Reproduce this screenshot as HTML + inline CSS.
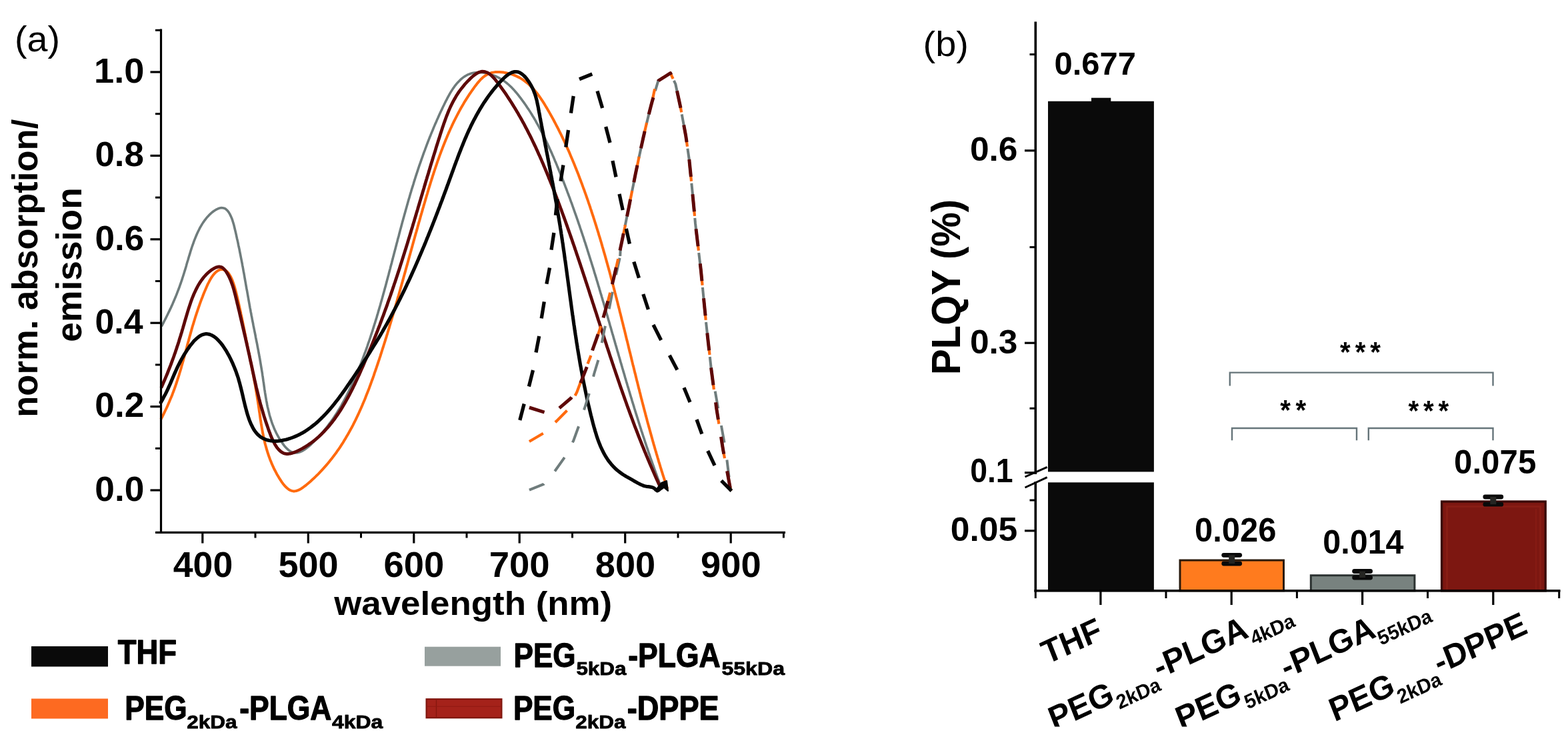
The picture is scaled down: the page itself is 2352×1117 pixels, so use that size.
<!DOCTYPE html>
<html lang="en">
<head>
<meta charset="utf-8">
<title>Normalized absorption/emission spectra and PLQY</title>
<style>
html,body{margin:0;padding:0;background:#fff;}
body{width:2352px;height:1117px;overflow:hidden;font-family:"Liberation Sans",Arial,Helvetica,sans-serif;}
svg{display:block;filter:blur(0.6px);}
</style>
</head>
<body>
<svg xmlns="http://www.w3.org/2000/svg" width="2352" height="1117" viewBox="0 0 2352 1117">
<rect width="2352" height="1117" fill="#fff"/>
<g id="left-chart">
<path d="M242.3,489.4 L243.9,486.4 L245.4,483.4 L246.9,480.5 L248.4,477.7 L249.8,474.8 L251.2,472.0 L252.5,469.3 L253.8,466.6 L255.1,463.9 L256.4,461.2 L257.6,458.5 L258.8,455.9 L259.9,453.3 L261.0,450.7 L262.1,448.1 L263.2,445.5 L264.3,442.9 L265.3,440.3 L266.3,437.7 L267.3,435.1 L268.3,432.5 L269.3,429.8 L270.2,427.2 L271.2,424.5 L272.1,421.8 L273.0,419.1 L273.9,416.3 L274.8,413.5 L275.7,410.7 L276.6,407.8 L277.5,404.9 L278.4,401.9 L279.3,398.9 L280.1,395.9 L281.0,392.8 L282.0,389.7 L282.9,386.6 L283.8,383.5 L284.8,380.4 L285.7,377.2 L286.7,374.1 L287.7,371.0 L288.8,367.9 L289.9,364.8 L291.0,361.7 L292.2,358.7 L293.4,355.7 L294.6,352.8 L295.9,349.8 L297.2,347.0 L298.6,344.2 L300.0,341.4 L301.5,338.8 L303.1,336.1 L304.7,333.6 L306.4,331.2 L308.2,328.8 L310.0,326.5 L311.9,324.4 L313.9,322.3 L315.9,320.4 L318.0,318.5 L320.3,316.8 L322.6,315.2 L324.9,313.9 L327.2,312.8 L329.6,312.0 L331.9,311.6 L334.1,311.7 L336.3,312.2 L338.3,313.2 L340.2,314.8 L342.0,316.7 L343.6,319.1 L345.1,321.7 L346.5,324.6 L347.8,327.7 L348.9,330.9 L349.9,334.2 L350.9,337.6 L351.7,341.0 L352.5,344.4 L353.3,347.7 L354.1,351.1 L354.8,354.4 L355.5,357.7 L356.3,360.9 L357.0,364.1 L357.6,367.3 L358.3,370.5 L359.0,373.6 L359.6,376.8 L360.2,379.9 L360.8,382.9 L361.4,386.0 L362.0,389.0 L362.6,392.1 L363.2,395.1 L363.7,398.1 L364.3,401.0 L364.8,404.0 L365.3,406.9 L365.9,409.8 L366.4,412.8 L366.9,415.7 L367.4,418.6 L367.9,421.5 L368.4,424.3 L368.9,427.2 L369.4,430.1 L369.9,432.9 L370.5,435.8 L371.0,438.7 L371.5,441.5 L372.0,444.4 L372.5,447.2 L373.0,450.1 L373.5,452.9 L374.0,455.8 L374.5,458.6 L375.0,461.5 L375.6,464.4 L376.1,467.3 L376.7,470.2 L377.2,473.1 L377.8,476.0 L378.3,478.9 L378.9,481.8 L379.5,484.7 L380.0,487.6 L380.6,490.6 L381.2,493.5 L381.8,496.5 L382.4,499.4 L383.0,502.4 L383.5,505.3 L384.1,508.3 L384.7,511.3 L385.3,514.2 L385.9,517.2 L386.4,520.2 L387.0,523.2 L387.6,526.2 L388.1,529.2 L388.7,532.2 L389.2,535.2 L389.8,538.2 L390.3,541.2 L390.8,544.2 L391.3,547.2 L391.8,550.2 L392.3,553.2 L392.8,556.2 L393.3,559.2 L393.7,562.2 L394.2,565.2 L394.6,568.2 L395.0,571.2 L395.5,574.2 L395.9,577.2 L396.3,580.2 L396.7,583.2 L397.2,586.2 L397.6,589.1 L398.1,592.1 L398.6,595.1 L399.1,598.1 L399.6,601.0 L400.2,603.9 L400.7,606.9 L401.3,609.8 L402.0,612.7 L402.7,615.6 L403.4,618.5 L404.1,621.4 L404.9,624.3 L405.8,627.1 L406.7,630.0 L407.6,632.8 L408.6,635.6 L409.7,638.4 L410.8,641.2 L412.0,644.0 L413.3,646.7 L414.6,649.5 L416.0,652.2 L417.5,654.9 L419.1,657.6 L420.7,660.2 L422.4,662.8 L424.3,665.4 L426.1,667.9 L428.1,670.3 L430.2,672.4 L432.3,674.4 L434.4,676.0 L436.7,677.4 L439.0,678.3 L441.3,678.9 L443.7,679.0 L446.2,678.7 L448.7,678.1 L451.1,677.2 L453.7,676.0 L456.2,674.5 L458.7,672.8 L461.2,670.9 L463.7,668.8 L466.2,666.6 L468.6,664.3 L471.0,662.0 L473.3,659.6 L475.6,657.2 L477.9,654.9 L480.1,652.5 L482.2,650.1 L484.3,647.6 L486.3,645.2 L488.3,642.8 L490.3,640.3 L492.2,637.9 L494.0,635.4 L495.8,633.0 L497.6,630.5 L499.4,628.0 L501.1,625.5 L502.7,623.0 L504.4,620.5 L506.0,618.0 L507.5,615.5 L509.1,612.9 L510.6,610.4 L512.1,607.8 L513.5,605.2 L514.9,602.7 L516.3,600.1 L517.7,597.5 L519.1,594.9 L520.4,592.3 L521.7,589.6 L523.0,587.0 L524.3,584.4 L525.5,581.7 L526.8,579.1 L528.0,576.4 L529.2,573.7 L530.4,571.0 L531.6,568.3 L532.8,565.6 L534.0,562.9 L535.2,560.2 L536.3,557.5 L537.4,554.7 L538.6,552.0 L539.7,549.2 L540.8,546.5 L541.9,543.7 L542.9,540.9 L544.0,538.1 L545.0,535.3 L546.1,532.5 L547.1,529.7 L548.2,526.9 L549.2,524.1 L550.2,521.3 L551.2,518.5 L552.1,515.6 L553.1,512.8 L554.1,510.0 L555.1,507.1 L556.0,504.3 L556.9,501.4 L557.9,498.5 L558.8,495.7 L559.7,492.8 L560.6,489.9 L561.5,487.0 L562.4,484.2 L563.3,481.3 L564.2,478.4 L565.1,475.5 L565.9,472.6 L566.8,469.7 L567.6,466.8 L568.5,463.9 L569.3,461.0 L570.2,458.1 L571.0,455.2 L571.8,452.3 L572.7,449.4 L573.5,446.4 L574.3,443.5 L575.1,440.6 L575.9,437.7 L576.7,434.8 L577.5,431.8 L578.3,428.9 L579.1,426.0 L579.9,423.1 L580.6,420.2 L581.4,417.2 L582.2,414.3 L583.0,411.4 L583.7,408.5 L584.5,405.6 L585.3,402.6 L586.0,399.7 L586.8,396.8 L587.6,393.9 L588.3,391.0 L589.1,388.1 L589.8,385.2 L590.6,382.3 L591.3,379.4 L592.1,376.5 L592.9,373.6 L593.6,370.7 L594.4,367.8 L595.1,364.9 L595.9,362.0 L596.6,359.1 L597.4,356.2 L598.2,353.4 L598.9,350.5 L599.7,347.6 L600.4,344.7 L601.2,341.9 L602.0,339.0 L602.8,336.1 L603.5,333.2 L604.3,330.4 L605.1,327.5 L605.9,324.7 L606.7,321.8 L607.5,318.9 L608.3,316.1 L609.1,313.2 L609.9,310.4 L610.7,307.5 L611.5,304.7 L612.3,301.8 L613.1,299.0 L614.0,296.1 L614.8,293.3 L615.6,290.4 L616.5,287.6 L617.3,284.8 L618.2,281.9 L619.1,279.1 L620.0,276.2 L620.8,273.4 L621.7,270.6 L622.6,267.7 L623.5,264.9 L624.4,262.1 L625.4,259.2 L626.3,256.4 L627.2,253.6 L628.2,250.7 L629.1,247.9 L630.1,245.1 L631.1,242.3 L632.1,239.4 L633.1,236.6 L634.1,233.8 L635.1,230.9 L636.1,228.1 L637.2,225.3 L638.2,222.5 L639.3,219.6 L640.3,216.8 L641.4,214.0 L642.5,211.2 L643.6,208.4 L644.7,205.5 L645.9,202.7 L647.0,199.9 L648.2,197.1 L649.4,194.2 L650.5,191.4 L651.7,188.6 L652.9,185.8 L654.2,182.9 L655.4,180.1 L656.7,177.3 L657.9,174.5 L659.2,171.6 L660.5,168.8 L661.8,166.0 L663.2,163.1 L664.5,160.3 L665.9,157.5 L667.2,154.7 L668.6,151.9 L670.1,149.1 L671.5,146.3 L673.0,143.6 L674.5,140.9 L676.1,138.2 L677.7,135.6 L679.3,133.1 L681.0,130.7 L682.7,128.3 L684.5,126.1 L686.4,123.9 L688.3,121.9 L690.3,119.9 L692.3,118.1 L694.5,116.4 L696.6,114.9 L698.9,113.5 L701.3,112.2 L703.7,111.2 L706.3,110.3 L708.9,109.5 L711.6,109.0 L714.4,108.7 L717.3,108.5 L720.3,108.6 L723.4,108.8 L726.5,109.3 L729.6,109.9 L732.8,110.6 L735.9,111.5 L739.0,112.6 L742.0,113.7 L745.0,115.0 L747.8,116.4 L750.6,118.0 L753.3,119.6 L755.8,121.3 L758.3,123.1 L760.7,125.0 L763.0,127.0 L765.2,129.0 L767.3,131.1 L769.4,133.2 L771.4,135.4 L773.4,137.7 L775.3,139.9 L777.1,142.2 L779.0,144.6 L780.8,146.9 L782.6,149.3 L784.3,151.7 L786.1,154.1 L787.8,156.5 L789.5,159.0 L791.1,161.5 L792.8,163.9 L794.4,166.4 L796.0,168.9 L797.6,171.5 L799.1,174.0 L800.7,176.5 L802.2,179.1 L803.7,181.7 L805.1,184.3 L806.6,186.9 L808.0,189.5 L809.4,192.1 L810.8,194.7 L812.2,197.4 L813.6,200.0 L814.9,202.7 L816.3,205.4 L817.6,208.1 L818.9,210.8 L820.2,213.5 L821.5,216.2 L822.7,218.9 L824.0,221.6 L825.2,224.4 L826.5,227.1 L827.7,229.8 L828.9,232.6 L830.1,235.3 L831.3,238.1 L832.4,240.9 L833.6,243.6 L834.8,246.4 L835.9,249.2 L837.1,252.0 L838.2,254.7 L839.3,257.5 L840.5,260.3 L841.6,263.1 L842.7,265.9 L843.8,268.7 L844.9,271.5 L846.0,274.3 L847.1,277.1 L848.1,279.9 L849.2,282.7 L850.3,285.5 L851.3,288.3 L852.4,291.1 L853.4,293.9 L854.5,296.7 L855.5,299.5 L856.5,302.4 L857.6,305.2 L858.6,308.0 L859.6,310.8 L860.6,313.6 L861.6,316.5 L862.6,319.3 L863.6,322.1 L864.6,324.9 L865.6,327.8 L866.6,330.6 L867.5,333.4 L868.5,336.3 L869.5,339.1 L870.4,342.0 L871.4,344.8 L872.3,347.6 L873.3,350.5 L874.2,353.3 L875.2,356.2 L876.1,359.0 L877.0,361.9 L878.0,364.7 L878.9,367.6 L879.8,370.4 L880.7,373.3 L881.6,376.2 L882.5,379.0 L883.4,381.9 L884.3,384.7 L885.2,387.6 L886.1,390.5 L887.0,393.3 L887.9,396.2 L888.8,399.0 L889.7,401.9 L890.6,404.8 L891.4,407.6 L892.3,410.5 L893.2,413.4 L894.1,416.3 L894.9,419.1 L895.8,422.0 L896.7,424.9 L897.5,427.7 L898.4,430.6 L899.2,433.5 L900.1,436.4 L900.9,439.2 L901.8,442.1 L902.6,445.0 L903.5,447.9 L904.3,450.8 L905.2,453.6 L906.0,456.5 L906.9,459.4 L907.7,462.3 L908.5,465.1 L909.4,468.0 L910.2,470.9 L911.1,473.8 L911.9,476.7 L912.7,479.6 L913.6,482.4 L914.4,485.3 L915.2,488.2 L916.1,491.1 L916.9,494.0 L917.7,496.9 L918.5,499.7 L919.4,502.6 L920.2,505.5 L921.0,508.4 L921.9,511.3 L922.7,514.2 L923.5,517.0 L924.4,519.9 L925.2,522.8 L926.0,525.7 L926.9,528.6 L927.7,531.5 L928.5,534.3 L929.4,537.2 L930.2,540.1 L931.0,543.0 L931.9,545.9 L932.7,548.7 L933.5,551.6 L934.4,554.5 L935.2,557.4 L936.1,560.3 L936.9,563.1 L937.7,566.0 L938.6,568.9 L939.4,571.8 L940.3,574.6 L941.1,577.5 L942.0,580.4 L942.9,583.3 L943.7,586.1 L944.6,589.0 L945.4,591.9 L946.3,594.8 L947.2,597.6 L948.0,600.5 L948.9,603.4 L949.8,606.2 L950.7,609.1 L951.5,612.0 L952.4,614.8 L953.3,617.7 L954.2,620.6 L955.1,623.4 L956.0,626.3 L956.9,629.1 L957.8,632.0 L958.7,634.9 L959.6,637.7 L960.5,640.6 L961.4,643.4 L962.3,646.3 L963.3,649.1 L964.2,652.0 L965.1,654.8 L966.1,657.7 L967.0,660.5 L967.9,663.4 L968.9,666.2 L969.8,669.0 L970.8,671.9 L971.8,674.7 L972.7,677.6 L973.7,680.4 L974.7,683.2 L975.6,686.1 L976.6,688.9 L977.6,691.7 L978.6,694.5 L979.6,697.4 L980.6,700.2 L981.6,703.0 L982.6,705.8 L983.6,708.7 L984.7,711.5 L985.7,714.3 L986.7,717.1 L987.8,719.9 L988.8,722.7 L989.9,725.5 L990.9,728.3 L992.0,731.1 L992.8,733.2" fill="none" stroke="#6f7c7c" stroke-width="3.6" stroke-linecap="butt" stroke-linejoin="round"/>
<path d="M241.3,628.8 L242.9,625.8 L244.4,622.8 L245.9,619.9 L247.3,616.9 L248.7,614.0 L250.1,611.1 L251.4,608.2 L252.7,605.3 L253.9,602.5 L255.1,599.6 L256.3,596.8 L257.5,594.0 L258.6,591.2 L259.6,588.4 L260.7,585.6 L261.7,582.8 L262.7,580.0 L263.7,577.2 L264.6,574.5 L265.5,571.7 L266.4,568.9 L267.3,566.2 L268.2,563.4 L269.0,560.7 L269.8,558.0 L270.7,555.2 L271.5,552.5 L272.2,549.7 L273.0,547.0 L273.8,544.2 L274.6,541.5 L275.3,538.8 L276.1,536.0 L276.8,533.2 L277.5,530.5 L278.3,527.7 L279.0,525.0 L279.8,522.2 L280.5,519.4 L281.2,516.6 L282.0,513.8 L282.8,511.0 L283.5,508.2 L284.3,505.3 L285.1,502.5 L285.9,499.6 L286.7,496.7 L287.5,493.9 L288.3,490.9 L289.2,488.0 L290.1,485.1 L291.0,482.2 L291.9,479.2 L292.8,476.2 L293.8,473.2 L294.8,470.2 L295.8,467.1 L296.8,464.1 L297.9,461.0 L299.0,457.9 L300.1,454.7 L301.2,451.6 L302.4,448.4 L303.7,445.2 L304.9,442.0 L306.2,438.7 L307.6,435.5 L309.0,432.2 L310.4,429.0 L311.8,425.9 L313.4,422.9 L314.9,419.9 L316.5,417.2 L318.2,414.6 L319.9,412.3 L321.7,410.2 L323.5,408.3 L325.4,406.8 L327.3,405.5 L329.3,404.6 L331.3,404.1 L333.4,404.0 L335.5,404.3 L337.5,405.1 L339.3,406.2 L341.1,407.8 L342.8,409.7 L344.3,412.0 L345.8,414.5 L347.2,417.3 L348.5,420.3 L349.7,423.6 L350.8,426.9 L351.9,430.4 L352.9,434.0 L353.9,437.6 L354.8,441.3 L355.7,444.9 L356.5,448.4 L357.3,451.9 L358.1,455.3 L358.8,458.6 L359.5,461.8 L360.2,465.0 L360.9,468.0 L361.5,471.1 L362.2,474.0 L362.8,477.0 L363.4,479.8 L364.0,482.7 L364.5,485.5 L365.1,488.3 L365.7,491.0 L366.2,493.8 L366.8,496.5 L367.3,499.2 L367.9,502.0 L368.4,504.7 L369.0,507.5 L369.5,510.2 L370.1,513.0 L370.7,515.8 L371.2,518.7 L371.8,521.5 L372.4,524.4 L373.0,527.3 L373.6,530.2 L374.2,533.1 L374.8,536.1 L375.3,539.0 L375.9,542.0 L376.5,545.0 L377.1,548.0 L377.7,551.0 L378.3,554.0 L378.9,557.0 L379.5,560.0 L380.1,563.0 L380.6,566.1 L381.2,569.1 L381.8,572.1 L382.3,575.1 L382.9,578.2 L383.4,581.2 L383.9,584.2 L384.4,587.3 L384.9,590.3 L385.4,593.3 L385.9,596.3 L386.4,599.3 L386.9,602.3 L387.3,605.3 L387.8,608.2 L388.2,611.2 L388.6,614.1 L389.0,617.1 L389.5,620.0 L389.9,623.0 L390.3,625.9 L390.7,628.8 L391.2,631.7 L391.6,634.6 L392.1,637.5 L392.6,640.4 L393.1,643.3 L393.6,646.1 L394.1,649.0 L394.7,651.9 L395.3,654.8 L395.9,657.6 L396.6,660.5 L397.2,663.3 L397.9,666.2 L398.7,669.0 L399.5,671.9 L400.3,674.7 L401.2,677.6 L402.1,680.4 L403.1,683.3 L404.1,686.1 L405.1,688.9 L406.3,691.8 L407.4,694.6 L408.7,697.5 L410.0,700.3 L411.3,703.2 L412.8,706.0 L414.3,708.9 L415.8,711.7 L417.5,714.6 L419.2,717.4 L421.0,720.2 L422.8,722.9 L424.7,725.5 L426.7,727.9 L428.7,730.1 L430.8,732.0 L433.0,733.7 L435.2,735.0 L437.5,735.9 L439.8,736.4 L442.1,736.4 L444.5,736.0 L446.9,735.2 L449.4,734.1 L451.8,732.7 L454.3,731.0 L456.7,729.2 L459.2,727.3 L461.6,725.3 L464.0,723.2 L466.3,721.2 L468.6,719.1 L470.9,717.0 L473.1,714.9 L475.3,712.7 L477.5,710.6 L479.6,708.4 L481.7,706.2 L483.8,703.9 L485.8,701.7 L487.8,699.4 L489.8,697.1 L491.8,694.8 L493.7,692.5 L495.6,690.1 L497.5,687.8 L499.3,685.4 L501.1,683.0 L502.9,680.6 L504.7,678.2 L506.4,675.7 L508.1,673.3 L509.8,670.8 L511.4,668.3 L513.0,665.8 L514.7,663.3 L516.2,660.7 L517.8,658.2 L519.3,655.6 L520.8,653.0 L522.3,650.4 L523.8,647.8 L525.2,645.2 L526.7,642.6 L528.1,640.0 L529.5,637.3 L530.8,634.6 L532.2,632.0 L533.5,629.3 L534.8,626.6 L536.1,623.9 L537.4,621.2 L538.6,618.5 L539.9,615.7 L541.1,613.0 L542.3,610.2 L543.5,607.5 L544.6,604.7 L545.8,602.0 L547.0,599.2 L548.1,596.4 L549.2,593.6 L550.3,590.8 L551.4,588.0 L552.5,585.2 L553.6,582.4 L554.6,579.6 L555.7,576.7 L556.7,573.9 L557.7,571.1 L558.8,568.3 L559.8,565.4 L560.8,562.6 L561.7,559.7 L562.7,556.9 L563.7,554.0 L564.7,551.2 L565.6,548.4 L566.6,545.5 L567.5,542.7 L568.5,539.8 L569.4,537.0 L570.4,534.1 L571.3,531.2 L572.2,528.4 L573.1,525.5 L574.0,522.7 L574.9,519.8 L575.8,517.0 L576.7,514.1 L577.6,511.3 L578.5,508.4 L579.4,505.6 L580.3,502.7 L581.2,499.8 L582.0,497.0 L582.9,494.1 L583.8,491.3 L584.6,488.4 L585.5,485.5 L586.3,482.7 L587.2,479.8 L588.0,477.0 L588.9,474.1 L589.7,471.2 L590.5,468.4 L591.4,465.5 L592.2,462.6 L593.0,459.8 L593.9,456.9 L594.7,454.0 L595.5,451.2 L596.3,448.3 L597.1,445.4 L598.0,442.6 L598.8,439.7 L599.6,436.8 L600.4,434.0 L601.2,431.1 L602.0,428.2 L602.8,425.3 L603.6,422.5 L604.4,419.6 L605.2,416.7 L606.0,413.8 L606.8,411.0 L607.6,408.1 L608.4,405.2 L609.2,402.3 L610.0,399.4 L610.8,396.6 L611.6,393.7 L612.4,390.8 L613.2,387.9 L614.0,385.0 L614.8,382.1 L615.6,379.3 L616.4,376.4 L617.2,373.5 L618.0,370.6 L618.8,367.7 L619.6,364.8 L620.4,361.9 L621.2,359.0 L622.0,356.2 L622.8,353.3 L623.6,350.4 L624.5,347.5 L625.3,344.6 L626.1,341.7 L626.9,338.8 L627.7,335.9 L628.5,333.0 L629.4,330.1 L630.2,327.2 L631.0,324.3 L631.8,321.4 L632.7,318.5 L633.5,315.6 L634.3,312.7 L635.2,309.8 L636.0,306.9 L636.9,304.0 L637.7,301.1 L638.6,298.2 L639.4,295.3 L640.3,292.4 L641.2,289.5 L642.0,286.6 L642.9,283.6 L643.8,280.7 L644.7,277.8 L645.6,274.9 L646.5,272.0 L647.4,269.2 L648.3,266.3 L649.2,263.4 L650.2,260.5 L651.1,257.6 L652.1,254.7 L653.0,251.8 L654.0,249.0 L655.0,246.1 L655.9,243.3 L656.9,240.4 L658.0,237.6 L659.0,234.7 L660.0,231.9 L661.1,229.0 L662.1,226.2 L663.2,223.4 L664.3,220.6 L665.4,217.8 L666.5,215.0 L667.6,212.2 L668.7,209.4 L669.9,206.7 L671.0,203.9 L672.2,201.2 L673.4,198.4 L674.6,195.7 L675.8,193.0 L677.1,190.3 L678.3,187.6 L679.6,184.9 L680.9,182.2 L682.2,179.6 L683.6,176.9 L684.9,174.3 L686.3,171.6 L687.7,169.0 L689.1,166.4 L690.5,163.8 L691.9,161.3 L693.4,158.7 L694.9,156.2 L696.4,153.6 L697.9,151.1 L699.5,148.6 L701.1,146.1 L702.7,143.7 L704.3,141.2 L705.9,138.8 L707.6,136.4 L709.3,134.0 L711.0,131.6 L712.7,129.2 L714.5,126.9 L716.3,124.6 L718.2,122.4 L720.1,120.2 L722.1,118.2 L724.2,116.2 L726.4,114.5 L728.7,112.9 L731.2,111.5 L733.7,110.3 L736.5,109.3 L739.4,108.6 L742.5,108.1 L745.7,107.9 L749.0,108.0 L752.4,108.2 L755.7,108.6 L758.9,109.2 L762.1,109.9 L765.2,110.7 L768.2,111.6 L771.0,112.6 L773.8,113.8 L776.5,115.1 L779.2,116.4 L781.7,117.9 L784.1,119.4 L786.5,121.1 L788.8,122.8 L791.1,124.6 L793.3,126.5 L795.4,128.5 L797.4,130.5 L799.4,132.7 L801.3,134.8 L803.2,137.0 L805.1,139.3 L806.9,141.7 L808.6,144.0 L810.3,146.4 L812.0,148.9 L813.7,151.4 L815.3,153.9 L816.9,156.4 L818.4,159.0 L820.0,161.6 L821.5,164.2 L823.0,166.7 L824.5,169.4 L826.0,172.0 L827.4,174.6 L828.9,177.2 L830.3,179.8 L831.7,182.5 L833.1,185.1 L834.5,187.8 L835.9,190.5 L837.3,193.1 L838.6,195.8 L839.9,198.5 L841.3,201.2 L842.6,203.9 L843.9,206.6 L845.2,209.3 L846.5,212.0 L847.7,214.7 L849.0,217.5 L850.2,220.2 L851.4,222.9 L852.7,225.7 L853.9,228.4 L855.1,231.2 L856.2,233.9 L857.4,236.7 L858.6,239.5 L859.7,242.2 L860.9,245.0 L862.0,247.8 L863.1,250.6 L864.3,253.4 L865.4,256.2 L866.5,259.0 L867.6,261.7 L868.6,264.6 L869.7,267.4 L870.8,270.2 L871.8,273.0 L872.9,275.8 L873.9,278.6 L874.9,281.4 L876.0,284.2 L877.0,287.1 L878.0,289.9 L879.0,292.7 L880.0,295.5 L881.0,298.4 L882.0,301.2 L882.9,304.0 L883.9,306.9 L884.9,309.7 L885.8,312.6 L886.8,315.4 L887.7,318.3 L888.6,321.1 L889.6,324.0 L890.5,326.8 L891.4,329.7 L892.3,332.5 L893.2,335.4 L894.1,338.2 L895.0,341.1 L895.9,344.0 L896.8,346.8 L897.7,349.7 L898.5,352.6 L899.4,355.4 L900.3,358.3 L901.1,361.2 L902.0,364.0 L902.8,366.9 L903.6,369.8 L904.5,372.7 L905.3,375.6 L906.1,378.4 L907.0,381.3 L907.8,384.2 L908.6,387.1 L909.4,390.0 L910.2,392.9 L911.0,395.8 L911.8,398.6 L912.6,401.5 L913.4,404.4 L914.2,407.3 L915.0,410.2 L915.8,413.1 L916.5,416.0 L917.3,418.9 L918.1,421.8 L918.8,424.7 L919.6,427.6 L920.4,430.5 L921.1,433.4 L921.9,436.3 L922.6,439.2 L923.4,442.1 L924.1,445.0 L924.9,447.9 L925.6,450.8 L926.4,453.7 L927.1,456.7 L927.8,459.6 L928.6,462.5 L929.3,465.4 L930.0,468.3 L930.8,471.2 L931.5,474.1 L932.2,477.0 L932.9,479.9 L933.7,482.9 L934.4,485.8 L935.1,488.7 L935.8,491.6 L936.6,494.5 L937.3,497.4 L938.0,500.3 L938.7,503.3 L939.4,506.2 L940.1,509.1 L940.9,512.0 L941.6,514.9 L942.3,517.8 L943.0,520.7 L943.7,523.7 L944.4,526.6 L945.2,529.5 L945.9,532.4 L946.6,535.3 L947.3,538.2 L948.0,541.2 L948.7,544.1 L949.4,547.0 L950.2,549.9 L950.9,552.8 L951.6,555.7 L952.3,558.6 L953.1,561.5 L953.8,564.5 L954.5,567.4 L955.2,570.3 L956.0,573.2 L956.7,576.1 L957.4,579.0 L958.1,581.9 L958.9,584.8 L959.6,587.7 L960.4,590.6 L961.1,593.6 L961.8,596.5 L962.6,599.4 L963.3,602.3 L964.1,605.2 L964.8,608.1 L965.6,611.0 L966.3,613.9 L967.1,616.8 L967.9,619.7 L968.6,622.6 L969.4,625.5 L970.2,628.4 L970.9,631.3 L971.7,634.2 L972.5,637.0 L973.3,639.9 L974.1,642.8 L974.9,645.7 L975.7,648.6 L976.5,651.5 L977.3,654.4 L978.1,657.3 L978.9,660.2 L979.7,663.0 L980.5,665.9 L981.4,668.8 L982.2,671.7 L983.0,674.5 L983.9,677.4 L984.7,680.3 L985.6,683.2 L986.4,686.0 L987.3,688.9 L988.1,691.8 L989.0,694.6 L989.9,697.5 L990.7,700.4 L991.6,703.2 L992.5,706.1 L993.4,708.9 L994.3,711.8 L995.2,714.6 L996.1,717.5 L997.1,720.3 L998.0,723.2 L998.9,726.0 L999.9,728.9 L1000.8,731.7 L1001.2,732.9" fill="none" stroke="#ff6a0e" stroke-width="4.0" stroke-linecap="butt" stroke-linejoin="round"/>
<path d="M241.7,581.5 L243.1,578.6 L244.4,575.6 L245.6,572.7 L246.9,569.8 L248.1,566.9 L249.3,564.1 L250.5,561.3 L251.6,558.5 L252.7,555.7 L253.8,552.9 L254.9,550.1 L256.0,547.4 L257.0,544.6 L258.0,541.9 L259.0,539.2 L260.0,536.5 L261.0,533.7 L261.9,531.0 L262.9,528.3 L263.8,525.6 L264.7,522.9 L265.6,520.1 L266.5,517.4 L267.4,514.7 L268.3,511.9 L269.1,509.1 L270.0,506.3 L270.9,503.5 L271.7,500.7 L272.6,497.9 L273.4,495.0 L274.3,492.1 L275.1,489.2 L276.0,486.3 L276.8,483.3 L277.7,480.3 L278.6,477.3 L279.5,474.3 L280.4,471.2 L281.3,468.1 L282.2,465.1 L283.2,462.0 L284.2,459.0 L285.2,455.9 L286.2,452.9 L287.3,449.9 L288.4,446.9 L289.6,444.0 L290.8,441.0 L292.1,438.2 L293.4,435.4 L294.8,432.6 L296.2,429.9 L297.7,427.2 L299.3,424.6 L300.9,422.1 L302.6,419.7 L304.4,417.3 L306.2,415.0 L308.2,412.8 L310.2,410.7 L312.3,408.8 L314.5,406.9 L316.8,405.1 L319.2,403.5 L321.6,402.1 L324.1,400.9 L326.6,400.2 L329.0,400.0 L331.3,400.3 L333.6,401.3 L335.7,403.0 L337.6,405.1 L339.5,407.7 L341.2,410.5 L342.8,413.4 L344.2,416.3 L345.5,419.2 L346.7,422.1 L347.8,425.1 L348.9,428.1 L349.8,431.1 L350.7,434.1 L351.5,437.1 L352.3,440.2 L353.1,443.2 L353.8,446.2 L354.6,449.3 L355.3,452.3 L356.0,455.4 L356.8,458.4 L357.5,461.5 L358.2,464.5 L359.0,467.5 L359.7,470.6 L360.4,473.6 L361.1,476.6 L361.8,479.6 L362.5,482.6 L363.2,485.6 L363.9,488.6 L364.6,491.6 L365.3,494.6 L366.0,497.6 L366.7,500.6 L367.4,503.6 L368.1,506.5 L368.7,509.5 L369.4,512.4 L370.1,515.4 L370.7,518.3 L371.4,521.2 L372.0,524.1 L372.7,527.0 L373.3,529.9 L374.0,532.8 L374.6,535.7 L375.2,538.5 L375.8,541.4 L376.5,544.2 L377.1,547.0 L377.7,549.8 L378.3,552.6 L378.9,555.4 L379.5,558.2 L380.1,561.0 L380.7,563.8 L381.3,566.6 L381.9,569.4 L382.5,572.2 L383.2,575.0 L383.8,577.8 L384.4,580.6 L385.1,583.4 L385.8,586.2 L386.5,589.1 L387.2,591.9 L387.9,594.8 L388.6,597.6 L389.4,600.5 L390.1,603.4 L390.9,606.4 L391.8,609.3 L392.6,612.3 L393.5,615.3 L394.4,618.3 L395.3,621.4 L396.2,624.5 L397.2,627.6 L398.2,630.7 L399.3,633.9 L400.4,637.1 L401.5,640.3 L402.6,643.6 L403.8,646.9 L405.1,650.2 L406.3,653.5 L407.7,656.7 L409.1,659.8 L410.6,662.8 L412.1,665.7 L413.7,668.4 L415.4,670.9 L417.2,673.1 L419.1,675.2 L421.1,676.9 L423.2,678.3 L425.3,679.5 L427.6,680.2 L430.1,680.6 L432.6,680.5 L435.2,680.1 L437.9,679.5 L440.7,678.5 L443.4,677.4 L446.2,676.2 L448.9,674.9 L451.5,673.5 L454.1,672.1 L456.7,670.6 L459.2,669.1 L461.7,667.5 L464.1,665.8 L466.5,664.1 L468.9,662.4 L471.2,660.6 L473.4,658.8 L475.7,656.9 L477.9,655.0 L480.0,653.0 L482.1,651.0 L484.2,648.9 L486.2,646.8 L488.2,644.7 L490.2,642.5 L492.2,640.3 L494.1,638.1 L495.9,635.8 L497.8,633.5 L499.6,631.1 L501.4,628.8 L503.1,626.4 L504.8,623.9 L506.5,621.5 L508.2,619.0 L509.9,616.4 L511.5,613.9 L513.1,611.3 L514.6,608.7 L516.2,606.1 L517.7,603.5 L519.2,600.9 L520.7,598.2 L522.2,595.5 L523.6,592.8 L525.0,590.1 L526.4,587.4 L527.8,584.6 L529.2,581.9 L530.5,579.1 L531.9,576.4 L533.2,573.6 L534.5,570.8 L535.8,568.0 L537.1,565.3 L538.4,562.5 L539.6,559.7 L540.9,556.9 L542.1,554.1 L543.4,551.3 L544.6,548.5 L545.8,545.7 L547.0,542.9 L548.2,540.1 L549.4,537.4 L550.6,534.6 L551.8,531.8 L552.9,529.0 L554.1,526.2 L555.2,523.4 L556.4,520.7 L557.5,517.9 L558.6,515.1 L559.8,512.3 L560.9,509.5 L562.0,506.7 L563.1,504.0 L564.2,501.2 L565.3,498.4 L566.4,495.6 L567.4,492.8 L568.5,490.1 L569.6,487.3 L570.6,484.5 L571.7,481.7 L572.7,478.9 L573.7,476.2 L574.8,473.4 L575.8,470.6 L576.8,467.8 L577.8,465.0 L578.9,462.2 L579.9,459.4 L580.9,456.6 L581.8,453.8 L582.8,451.0 L583.8,448.3 L584.8,445.5 L585.8,442.7 L586.7,439.9 L587.7,437.1 L588.7,434.2 L589.6,431.4 L590.6,428.6 L591.5,425.8 L592.5,423.0 L593.4,420.2 L594.3,417.4 L595.3,414.5 L596.2,411.7 L597.1,408.9 L598.1,406.1 L599.0,403.2 L599.9,400.4 L600.8,397.6 L601.7,394.7 L602.6,391.9 L603.5,389.0 L604.4,386.2 L605.3,383.3 L606.2,380.5 L607.1,377.6 L608.0,374.7 L608.9,371.9 L609.8,369.0 L610.7,366.1 L611.6,363.3 L612.4,360.4 L613.3,357.5 L614.2,354.6 L615.1,351.7 L616.0,348.8 L616.8,345.9 L617.7,343.0 L618.6,340.2 L619.4,337.3 L620.3,334.4 L621.2,331.5 L622.0,328.6 L622.9,325.7 L623.8,322.8 L624.6,319.9 L625.5,317.0 L626.4,314.1 L627.2,311.2 L628.1,308.2 L629.0,305.3 L629.8,302.4 L630.7,299.5 L631.5,296.6 L632.4,293.7 L633.3,290.8 L634.1,287.9 L635.0,285.0 L635.9,282.1 L636.7,279.2 L637.6,276.3 L638.4,273.4 L639.3,270.5 L640.2,267.6 L641.0,264.7 L641.9,261.9 L642.8,259.0 L643.6,256.1 L644.5,253.2 L645.4,250.3 L646.2,247.4 L647.1,244.6 L648.0,241.7 L648.9,238.8 L649.7,236.0 L650.6,233.1 L651.5,230.2 L652.4,227.4 L653.3,224.5 L654.1,221.7 L655.0,218.8 L655.9,216.0 L656.8,213.1 L657.7,210.3 L658.6,207.5 L659.5,204.7 L660.4,201.8 L661.3,199.0 L662.2,196.2 L663.1,193.4 L664.0,190.6 L665.0,187.8 L665.9,185.0 L666.9,182.3 L667.9,179.5 L668.9,176.7 L669.9,174.0 L671.0,171.3 L672.1,168.5 L673.2,165.8 L674.4,163.1 L675.6,160.4 L676.9,157.7 L678.2,155.1 L679.6,152.4 L681.0,149.8 L682.5,147.2 L684.0,144.6 L685.6,142.0 L687.3,139.4 L689.0,136.9 L690.9,134.4 L692.8,131.9 L694.8,129.4 L696.8,126.9 L699.0,124.5 L701.2,122.1 L703.6,119.7 L706.0,117.3 L708.5,115.0 L711.1,112.9 L713.7,111.0 L716.3,109.4 L718.8,108.2 L721.3,107.5 L723.7,107.2 L726.0,107.3 L728.3,107.9 L730.5,108.7 L732.7,109.9 L734.8,111.3 L736.9,113.0 L738.9,115.0 L740.9,117.1 L742.8,119.3 L744.7,121.7 L746.6,124.1 L748.5,126.6 L750.3,129.1 L752.1,131.6 L753.9,134.1 L755.7,136.7 L757.5,139.2 L759.2,141.7 L760.9,144.3 L762.6,146.8 L764.3,149.4 L766.0,152.0 L767.6,154.6 L769.2,157.1 L770.8,159.7 L772.4,162.3 L774.0,164.9 L775.5,167.5 L777.1,170.1 L778.6,172.8 L780.1,175.4 L781.6,178.0 L783.1,180.7 L784.5,183.3 L786.0,185.9 L787.4,188.6 L788.8,191.3 L790.2,193.9 L791.6,196.6 L792.9,199.3 L794.3,201.9 L795.7,204.6 L797.0,207.3 L798.3,210.0 L799.6,212.7 L800.9,215.4 L802.2,218.1 L803.5,220.8 L804.7,223.5 L806.0,226.3 L807.2,229.0 L808.4,231.7 L809.7,234.4 L810.9,237.2 L812.1,239.9 L813.3,242.7 L814.5,245.4 L815.6,248.2 L816.8,250.9 L818.0,253.7 L819.1,256.4 L820.3,259.2 L821.4,262.0 L822.5,264.7 L823.6,267.5 L824.8,270.3 L825.9,273.0 L827.0,275.8 L828.1,278.6 L829.2,281.4 L830.3,284.2 L831.4,286.9 L832.4,289.7 L833.5,292.5 L834.6,295.3 L835.6,298.1 L836.7,300.9 L837.8,303.7 L838.8,306.5 L839.9,309.3 L840.9,312.1 L842.0,314.9 L843.0,317.7 L844.0,320.5 L845.0,323.3 L846.1,326.2 L847.1,329.0 L848.1,331.8 L849.1,334.6 L850.1,337.4 L851.1,340.2 L852.1,343.1 L853.1,345.9 L854.1,348.7 L855.1,351.5 L856.1,354.4 L857.1,357.2 L858.1,360.0 L859.0,362.9 L860.0,365.7 L861.0,368.5 L862.0,371.4 L862.9,374.2 L863.9,377.0 L864.8,379.9 L865.8,382.7 L866.8,385.6 L867.7,388.4 L868.7,391.2 L869.6,394.1 L870.6,396.9 L871.5,399.8 L872.5,402.6 L873.4,405.5 L874.3,408.3 L875.3,411.2 L876.2,414.0 L877.2,416.9 L878.1,419.7 L879.0,422.6 L880.0,425.4 L880.9,428.3 L881.8,431.1 L882.8,434.0 L883.7,436.8 L884.6,439.7 L885.5,442.6 L886.5,445.4 L887.4,448.3 L888.3,451.1 L889.2,454.0 L890.2,456.8 L891.1,459.7 L892.0,462.5 L892.9,465.4 L893.9,468.3 L894.8,471.1 L895.7,474.0 L896.6,476.8 L897.5,479.7 L898.5,482.5 L899.4,485.4 L900.3,488.3 L901.2,491.1 L902.2,494.0 L903.1,496.8 L904.0,499.7 L905.0,502.5 L905.9,505.4 L906.8,508.2 L907.7,511.1 L908.7,514.0 L909.6,516.8 L910.5,519.7 L911.5,522.5 L912.4,525.4 L913.4,528.2 L914.3,531.1 L915.2,533.9 L916.2,536.8 L917.1,539.6 L918.1,542.5 L919.0,545.3 L920.0,548.1 L920.9,551.0 L921.9,553.8 L922.9,556.7 L923.8,559.5 L924.8,562.4 L925.8,565.2 L926.7,568.0 L927.7,570.9 L928.7,573.7 L929.6,576.5 L930.6,579.4 L931.6,582.2 L932.6,585.0 L933.6,587.9 L934.6,590.7 L935.6,593.5 L936.6,596.4 L937.6,599.2 L938.6,602.0 L939.6,604.8 L940.6,607.7 L941.6,610.5 L942.7,613.3 L943.7,616.1 L944.7,618.9 L945.7,621.7 L946.8,624.5 L947.8,627.3 L948.9,630.2 L949.9,633.0 L951.0,635.8 L952.0,638.6 L953.1,641.4 L954.2,644.2 L955.3,647.0 L956.3,649.7 L957.4,652.5 L958.5,655.3 L959.6,658.1 L960.7,660.9 L961.8,663.7 L962.9,666.5 L964.0,669.2 L965.2,672.0 L966.3,674.8 L967.4,677.6 L968.6,680.3 L969.7,683.1 L970.9,685.9 L972.0,688.6 L973.2,691.4 L974.3,694.1 L975.5,696.9 L976.7,699.6 L977.9,702.4 L979.1,705.1 L980.3,707.9 L981.5,710.6 L982.7,713.4 L983.9,716.1 L985.1,718.8 L986.4,721.6 L987.6,724.3 L988.9,727.0 L990.1,729.7 L991.4,732.4 L992.3,734.3" fill="none" stroke="#5e0808" stroke-width="4.8" stroke-linecap="butt" stroke-linejoin="round"/>
<path d="M241.2,603.4 L243.1,600.1 L244.9,596.9 L246.5,593.8 L248.1,590.9 L249.5,588.1 L250.8,585.4 L252.0,582.8 L253.2,580.2 L254.3,577.7 L255.4,575.3 L256.4,572.9 L257.4,570.5 L258.4,568.2 L259.4,565.8 L260.4,563.5 L261.4,561.1 L262.5,558.7 L263.6,556.2 L264.7,553.7 L265.9,551.1 L267.2,548.4 L268.6,545.7 L270.1,542.8 L271.7,539.8 L273.4,536.7 L275.2,533.6 L277.1,530.4 L279.1,527.3 L281.1,524.1 L283.3,521.1 L285.4,518.1 L287.7,515.3 L289.9,512.6 L292.2,510.1 L294.6,507.9 L296.9,505.8 L299.3,504.1 L301.7,502.7 L304.0,501.7 L306.4,501.0 L308.7,500.7 L311.0,500.7 L313.3,501.1 L315.5,501.8 L317.8,502.7 L320.0,504.0 L322.2,505.4 L324.3,507.1 L326.4,509.1 L328.4,511.2 L330.4,513.4 L332.4,515.9 L334.3,518.4 L336.1,521.1 L337.9,523.9 L339.7,526.7 L341.3,529.6 L343.0,532.5 L344.5,535.4 L346.0,538.4 L347.4,541.3 L348.7,544.1 L349.9,546.9 L351.1,549.7 L352.2,552.4 L353.2,555.0 L354.2,557.7 L355.1,560.3 L356.0,562.9 L356.9,565.5 L357.7,568.1 L358.4,570.7 L359.2,573.4 L359.9,576.1 L360.6,578.8 L361.3,581.5 L362.0,584.3 L362.7,587.2 L363.4,590.1 L364.1,593.1 L364.8,596.2 L365.5,599.4 L366.3,602.7 L367.1,606.0 L367.9,609.3 L368.8,612.6 L369.7,616.0 L370.6,619.3 L371.6,622.7 L372.7,625.9 L373.8,629.1 L375.0,632.3 L376.3,635.3 L377.7,638.2 L379.1,641.0 L380.6,643.7 L382.3,646.2 L384.0,648.5 L385.8,650.6 L387.8,652.6 L389.8,654.3 L392.0,655.8 L394.2,657.1 L396.6,658.2 L399.0,659.2 L401.5,659.9 L404.0,660.5 L406.6,660.9 L409.3,661.2 L412.0,661.3 L414.7,661.3 L417.5,661.1 L420.3,660.8 L423.1,660.4 L425.9,659.8 L428.7,659.2 L431.5,658.4 L434.3,657.6 L437.1,656.6 L439.8,655.6 L442.5,654.5 L445.2,653.3 L447.8,652.1 L450.4,650.8 L453.0,649.4 L455.5,647.9 L458.0,646.4 L460.4,644.8 L462.8,643.2 L465.2,641.5 L467.6,639.7 L469.9,637.9 L472.2,636.1 L474.4,634.2 L476.7,632.2 L478.9,630.2 L481.0,628.1 L483.2,626.0 L485.3,623.9 L487.4,621.7 L489.5,619.5 L491.5,617.3 L493.5,615.0 L495.5,612.7 L497.5,610.4 L499.5,608.0 L501.4,605.6 L503.3,603.2 L505.2,600.7 L507.1,598.3 L509.0,595.8 L510.8,593.3 L512.7,590.8 L514.5,588.3 L516.3,585.8 L518.1,583.2 L519.8,580.7 L521.6,578.1 L523.4,575.6 L525.1,573.0 L526.8,570.5 L528.6,567.9 L530.3,565.4 L532.0,562.9 L533.7,560.3 L535.4,557.8 L537.1,555.3 L538.7,552.8 L540.4,550.3 L542.1,547.8 L543.7,545.3 L545.3,542.8 L547.0,540.3 L548.6,537.8 L550.2,535.3 L551.8,532.8 L553.4,530.3 L555.0,527.8 L556.6,525.2 L558.2,522.7 L559.7,520.2 L561.3,517.7 L562.9,515.2 L564.4,512.7 L565.9,510.2 L567.5,507.6 L569.0,505.1 L570.5,502.6 L572.0,500.0 L573.5,497.5 L574.9,494.9 L576.4,492.4 L577.9,489.8 L579.3,487.2 L580.8,484.6 L582.2,482.0 L583.7,479.4 L585.1,476.8 L586.5,474.2 L587.9,471.6 L589.3,469.0 L590.7,466.3 L592.1,463.7 L593.4,461.1 L594.8,458.4 L596.2,455.8 L597.5,453.1 L598.9,450.4 L600.2,447.8 L601.5,445.1 L602.9,442.4 L604.2,439.7 L605.5,437.0 L606.8,434.3 L608.1,431.6 L609.4,428.9 L610.6,426.2 L611.9,423.5 L613.2,420.8 L614.5,418.1 L615.7,415.4 L617.0,412.6 L618.2,409.9 L619.4,407.2 L620.7,404.4 L621.9,401.7 L623.1,398.9 L624.3,396.2 L625.5,393.4 L626.7,390.7 L627.9,387.9 L629.1,385.1 L630.3,382.4 L631.5,379.6 L632.7,376.8 L633.8,374.0 L635.0,371.3 L636.2,368.5 L637.3,365.7 L638.5,362.9 L639.6,360.1 L640.7,357.3 L641.9,354.5 L643.0,351.7 L644.1,348.9 L645.3,346.1 L646.4,343.3 L647.5,340.5 L648.6,337.7 L649.7,334.9 L650.8,332.1 L651.9,329.3 L653.0,326.5 L654.1,323.6 L655.2,320.8 L656.3,318.0 L657.3,315.2 L658.4,312.4 L659.5,309.6 L660.5,306.7 L661.6,303.9 L662.7,301.1 L663.7,298.3 L664.8,295.5 L665.8,292.6 L666.9,289.8 L667.9,287.0 L669.0,284.2 L670.0,281.3 L671.0,278.5 L672.1,275.7 L673.1,272.9 L674.1,270.1 L675.2,267.2 L676.2,264.4 L677.2,261.6 L678.2,258.8 L679.3,256.0 L680.3,253.2 L681.3,250.3 L682.3,247.5 L683.4,244.7 L684.4,241.9 L685.5,239.1 L686.5,236.3 L687.6,233.5 L688.6,230.7 L689.7,228.0 L690.8,225.2 L691.9,222.4 L693.0,219.6 L694.1,216.9 L695.2,214.1 L696.3,211.4 L697.5,208.6 L698.7,205.9 L699.8,203.2 L701.0,200.5 L702.3,197.7 L703.5,195.0 L704.8,192.4 L706.0,189.7 L707.3,187.0 L708.7,184.3 L710.0,181.7 L711.4,179.0 L712.8,176.4 L714.2,173.8 L715.6,171.2 L717.1,168.6 L718.6,166.0 L720.1,163.4 L721.7,160.8 L723.2,158.3 L724.9,155.7 L726.5,153.2 L728.2,150.7 L729.9,148.2 L731.6,145.7 L733.4,143.3 L735.3,140.8 L737.1,138.4 L739.0,135.9 L740.9,133.5 L742.9,131.2 L744.9,128.8 L747.0,126.4 L749.1,124.1 L751.2,121.8 L753.4,119.5 L755.6,117.3 L757.9,115.2 L760.1,113.3 L762.4,111.6 L764.8,110.2 L767.1,109.0 L769.5,108.1 L771.8,107.6 L774.2,107.5 L776.6,107.8 L779.0,108.6 L781.3,109.9 L783.7,111.6 L786.0,113.6 L788.2,115.9 L790.3,118.4 L792.3,121.2 L794.2,124.0 L796.0,127.0 L797.6,130.0 L799.1,132.9 L800.4,135.8 L801.5,138.8 L802.6,141.7 L803.5,144.6 L804.3,147.5 L805.1,150.3 L805.7,153.2 L806.3,156.1 L806.9,158.9 L807.5,161.8 L808.0,164.7 L808.5,167.5 L809.1,170.4 L809.6,173.3 L810.1,176.2 L810.7,179.1 L811.2,182.0 L811.8,184.9 L812.3,187.8 L812.9,190.7 L813.4,193.6 L814.0,196.5 L814.6,199.4 L815.1,202.3 L815.7,205.2 L816.3,208.2 L816.8,211.1 L817.4,214.0 L817.9,217.0 L818.5,219.9 L819.1,222.8 L819.6,225.8 L820.2,228.7 L820.8,231.7 L821.4,234.6 L821.9,237.6 L822.5,240.5 L823.1,243.5 L823.6,246.4 L824.2,249.4 L824.7,252.4 L825.3,255.3 L825.9,258.3 L826.4,261.3 L827.0,264.2 L827.6,267.2 L828.1,270.2 L828.7,273.1 L829.2,276.1 L829.8,279.1 L830.3,282.1 L830.9,285.0 L831.4,288.0 L831.9,291.0 L832.5,294.0 L833.0,297.0 L833.5,299.9 L834.1,302.9 L834.6,305.9 L835.1,308.9 L835.6,311.9 L836.1,314.8 L836.6,317.8 L837.1,320.8 L837.6,323.8 L838.1,326.8 L838.6,329.7 L839.1,332.7 L839.6,335.7 L840.1,338.7 L840.5,341.6 L841.0,344.6 L841.5,347.6 L841.9,350.6 L842.4,353.5 L842.8,356.5 L843.3,359.5 L843.7,362.4 L844.2,365.4 L844.6,368.4 L845.0,371.3 L845.4,374.3 L845.9,377.3 L846.3,380.2 L846.7,383.2 L847.1,386.2 L847.5,389.1 L848.0,392.1 L848.4,395.0 L848.8,398.0 L849.2,401.0 L849.6,403.9 L850.0,406.9 L850.4,409.8 L850.8,412.8 L851.2,415.8 L851.6,418.7 L852.0,421.7 L852.4,424.6 L852.8,427.6 L853.2,430.5 L853.6,433.5 L854.0,436.5 L854.4,439.4 L854.8,442.4 L855.2,445.3 L855.6,448.3 L856.0,451.2 L856.4,454.2 L856.8,457.1 L857.2,460.1 L857.6,463.0 L858.0,466.0 L858.4,468.9 L858.8,471.9 L859.3,474.8 L859.7,477.8 L860.1,480.7 L860.5,483.7 L860.9,486.7 L861.4,489.6 L861.8,492.6 L862.2,495.5 L862.7,498.5 L863.1,501.4 L863.6,504.4 L864.0,507.3 L864.5,510.3 L864.9,513.2 L865.4,516.2 L865.9,519.1 L866.3,522.1 L866.8,525.0 L867.3,528.0 L867.8,530.9 L868.3,533.9 L868.8,536.8 L869.3,539.8 L869.8,542.7 L870.3,545.7 L870.8,548.6 L871.4,551.6 L871.9,554.5 L872.5,557.5 L873.0,560.4 L873.6,563.4 L874.1,566.4 L874.7,569.3 L875.3,572.3 L875.9,575.2 L876.5,578.2 L877.1,581.1 L877.7,584.1 L878.3,587.0 L878.9,590.0 L879.6,593.0 L880.2,595.9 L880.8,598.9 L881.5,601.8 L882.2,604.8 L882.9,607.8 L883.6,610.7 L884.3,613.7 L885.0,616.6 L885.7,619.6 L886.4,622.6 L887.2,625.5 L887.9,628.5 L888.7,631.5 L889.4,634.4 L890.2,637.4 L891.0,640.3 L891.9,643.3 L892.7,646.2 L893.6,649.1 L894.5,652.0 L895.4,654.9 L896.4,657.8 L897.4,660.6 L898.5,663.5 L899.6,666.2 L900.7,669.0 L901.9,671.7 L903.2,674.4 L904.5,677.0 L905.8,679.6 L907.3,682.2 L908.7,684.7 L910.3,687.2 L911.9,689.6 L913.6,691.9 L915.4,694.2 L917.2,696.4 L919.2,698.6 L921.2,700.7 L923.3,702.8 L925.5,704.7 L927.8,706.6 L930.2,708.4 L932.6,710.2 L935.2,711.9 L937.8,713.5 L940.4,715.1 L943.1,716.6 L945.8,718.1 L948.4,719.6 L951.0,721.1 L953.6,722.5 L956.2,724.0 L958.7,725.3 L961.3,726.6 L964.0,727.7 L966.7,728.7 L969.6,729.3 L972.7,729.7 L975.8,730.1 L978.8,730.7 L981.5,732.1 L983.7,734.3 L985.9,735.9 L988.5,734.6 L991.1,731.7 L992.9,729.0 L993.3,728.4" fill="none" stroke="#050505" stroke-width="5.2" stroke-linecap="round" stroke-linejoin="round"/>
<path d="M985,733 L992,724 L1000,721 L1002,736 L996,731 L990,735 Z" fill="#050505" stroke="#050505" stroke-width="2" stroke-linejoin="round"/>
<path d="M793.9,734.7 L815.6,725.8 L815.9,725.4 M832.2,706.5 L846.8,685.9 M858.8,663.4 L860.2,660.8 L868.0,639.3 M876.0,614.6 L878.0,608.5 L883.8,589.9 M890.1,564.7 L891.0,561.0 L897.4,539.8 M902.7,514.2 L906.5,495.0 L907.9,488.7 M913.6,463.3 L914.4,459.7 L918.7,437.7 M924.0,412.2 L924.8,408.5 L929.6,386.7 M930.2,384.0 L930.8,371.4 L932.2,364.9 M937.5,339.4 L938.9,332.2 L940.5,324.4 L942.1,316.5 L942.6,313.8 M947.8,288.2 L948.4,285.2 L950.0,277.3 L951.5,269.5 L952.9,262.7 M958.2,237.2 L959.7,230.3 L961.4,222.5 L963.1,214.7 L963.7,211.7 M969.6,186.3 L970.3,183.5 L972.2,175.7 L974.1,168.0 L975.9,161.0 M982.9,136.1 L987.5,120.5 L995.2,115.7 M1010.9,120.8 L1013.3,126.0 L1017.5,145.8 M1022.7,171.3 L1027.5,197.0 M1031.4,222.8 L1033.7,238.6 L1034.7,248.7 M1037.3,274.8 L1038.8,289.6 L1039.8,300.8 M1042.3,326.9 L1043.0,335.0 L1045.1,352.9 M1048.2,378.9 L1051.3,404.8 M1053.9,430.9 L1056.4,456.9 M1059.0,483.0 L1059.0,483.0 L1061.9,509.0 M1064.8,535.0 L1066.8,553.0 L1068.2,560.9 M1072.7,586.6 L1077.0,611.0 L1077.2,612.3 M1081.9,638.0 L1086.5,663.7 M1090.4,689.5 L1093.6,715.5" fill="none" stroke="#6f7c7c" stroke-width="4.0" stroke-linecap="butt" stroke-linejoin="round"/>
<path d="M793.9,662.0 L814.8,649.8 M832.9,633.1 L834.7,631.4 L850.5,615.6 M862.6,593.3 L865.3,588.0 L872.2,569.4 M881.5,545.4 L886.4,533.0 M893.1,513.5 L899.2,495.3 L901.2,488.9 M908.5,464.0 L910.4,456.9 L912.5,449.2 L914.5,441.5 L915.2,438.8 M921.4,413.6 L922.1,410.4 L923.9,402.6 L925.7,394.8 L927.2,388.2 M932.7,362.7 L934.1,355.7 L935.8,347.9 L937.4,340.1 L937.9,337.1 M943.1,311.6 L943.7,308.7 L945.2,300.9 L946.8,293.0 L948.2,286.0 M953.4,260.4 L954.7,253.8 L956.4,246.0 L958.0,238.1 L958.7,234.9 M964.2,209.4 L964.8,206.9 L966.6,199.1 L968.4,191.3 L970.1,184.1 M976.4,158.8 L978.1,152.5 L982.1,133.4 M992.4,117.7 L1005.6,109.7 L1009.6,118.1 M1016.9,142.8 L1021.0,162.0 L1022.2,168.3 M1026.9,194.0 L1028.6,203.0 L1031.0,219.8 M1034.4,245.7 L1037.0,271.7 M1039.6,297.8 L1042.0,323.9 M1044.8,349.9 L1047.9,375.8 M1050.9,401.8 L1051.5,406.5 L1053.6,427.8 M1056.1,453.9 L1058.7,479.9 M1061.6,505.9 L1064.5,531.9 M1067.5,557.9 L1070.9,583.9 M1074.3,609.8 L1074.5,611.0 L1078.4,635.6 M1082.6,661.4 L1084.7,674.8 L1087.0,687.1 M1091.8,712.7 L1096.2,736.0" fill="none" stroke="#ff6a0e" stroke-width="4.2" stroke-linecap="butt" stroke-linejoin="round"/>
<path d="M793.9,611.0 L816.6,618.1 M839.0,611.9 L856.4,597.0 L857.4,595.5 M870.9,574.1 L880.3,550.1 M888.5,525.5 L888.7,524.9 L897.1,501.2 M904.9,476.4 L906.1,472.3 L908.3,464.6 L910.4,456.9 L911.9,451.4 M918.3,426.2 L918.4,425.9 L920.3,418.2 L922.1,410.4 L923.9,402.6 L924.3,400.9 M930.0,375.4 L930.8,371.4 L932.5,363.6 L934.1,355.7 L935.3,349.9 M940.5,324.4 L942.1,316.5 L943.7,308.7 L945.2,300.9 L945.7,298.8 M950.8,273.2 L951.5,269.5 L953.1,261.6 L954.7,253.8 L956.0,247.7 M961.4,222.2 L963.1,214.7 L964.8,206.9 L966.6,199.1 L967.1,196.8 M973.2,171.4 L974.1,168.0 L976.1,160.2 L978.1,152.5 L980.0,146.3 M987.6,121.6 L987.8,121.0 L1005.6,109.7 L1006.8,112.2 M1015.5,136.3 L1021.0,161.8 M1025.7,187.5 L1028.6,203.0 L1030.1,213.2 M1033.8,239.1 L1036.4,265.1 M1038.9,291.2 L1041.4,317.3 M1044.0,343.3 L1047.1,369.3 M1050.2,395.2 L1051.5,406.5 L1052.9,421.2 M1055.5,447.3 L1058.1,473.3 M1060.8,499.4 L1063.7,525.4 M1066.6,551.4 L1066.8,553.0 L1070.0,577.3 M1073.5,603.2 L1074.5,611.0 L1077.4,629.0 M1081.5,654.8 L1084.7,674.8 L1085.8,680.6 M1090.6,706.2 L1095.4,731.9" fill="none" stroke="#5e0808" stroke-width="5.0" stroke-linecap="butt" stroke-linejoin="round"/>
<line x1="779.8" y1="630.0" x2="786.2" y2="605.5" stroke="#050505" stroke-width="5.3" stroke-linecap="butt"/>
<line x1="793.4" y1="579.5" x2="799.5" y2="555.0" stroke="#050505" stroke-width="5.3" stroke-linecap="butt"/>
<line x1="804.0" y1="528.5" x2="808.7" y2="504.0" stroke="#050505" stroke-width="5.3" stroke-linecap="butt"/>
<line x1="812.2" y1="477.4" x2="816.3" y2="452.4" stroke="#050505" stroke-width="5.3" stroke-linecap="butt"/>
<line x1="819.9" y1="425.7" x2="824.5" y2="401.4" stroke="#050505" stroke-width="5.3" stroke-linecap="butt"/>
<line x1="827.0" y1="374.6" x2="830.9" y2="349.0" stroke="#050505" stroke-width="5.3" stroke-linecap="butt"/>
<line x1="833.4" y1="322.8" x2="836.0" y2="298.5" stroke="#050505" stroke-width="5.3" stroke-linecap="butt"/>
<line x1="841.0" y1="271.7" x2="844.9" y2="247.5" stroke="#050505" stroke-width="5.3" stroke-linecap="butt"/>
<line x1="848.7" y1="220.7" x2="852.5" y2="195.0" stroke="#050505" stroke-width="5.3" stroke-linecap="butt"/>
<line x1="856.4" y1="169.7" x2="860.2" y2="144.0" stroke="#050505" stroke-width="5.3" stroke-linecap="butt"/>
<line x1="869.0" y1="118.7" x2="888.3" y2="111.0" stroke="#050505" stroke-width="5.3" stroke-linecap="butt"/>
<line x1="896.0" y1="136.5" x2="903.6" y2="162.0" stroke="#050505" stroke-width="5.3" stroke-linecap="butt"/>
<line x1="908.7" y1="190.0" x2="915.0" y2="214.0" stroke="#050505" stroke-width="5.3" stroke-linecap="butt"/>
<line x1="918.9" y1="241.0" x2="924.0" y2="265.4" stroke="#050505" stroke-width="5.3" stroke-linecap="butt"/>
<line x1="929.0" y1="290.9" x2="934.2" y2="315.0" stroke="#050505" stroke-width="5.3" stroke-linecap="butt"/>
<line x1="939.3" y1="342.8" x2="944.4" y2="365.7" stroke="#050505" stroke-width="5.3" stroke-linecap="butt"/>
<line x1="950.8" y1="392.5" x2="958.4" y2="416.7" stroke="#050505" stroke-width="5.3" stroke-linecap="butt"/>
<line x1="964.8" y1="441.0" x2="972.4" y2="464.0" stroke="#050505" stroke-width="5.3" stroke-linecap="butt"/>
<line x1="980.0" y1="487.0" x2="991.6" y2="510.0" stroke="#050505" stroke-width="5.3" stroke-linecap="butt"/>
<line x1="1004.3" y1="532.8" x2="1015.8" y2="554.5" stroke="#050505" stroke-width="5.3" stroke-linecap="butt"/>
<line x1="1026.0" y1="581.3" x2="1035.0" y2="603.0" stroke="#050505" stroke-width="5.3" stroke-linecap="butt"/>
<line x1="1045.0" y1="629.0" x2="1052.8" y2="650.6" stroke="#050505" stroke-width="5.3" stroke-linecap="butt"/>
<line x1="1061.7" y1="676.0" x2="1072.0" y2="697.8" stroke="#050505" stroke-width="5.3" stroke-linecap="butt"/>
<line x1="1082.0" y1="720.7" x2="1097.4" y2="736.0" stroke="#050505" stroke-width="5.3" stroke-linecap="butt"/>
<line x1="241.5" y1="43.5" x2="241.5" y2="799.8" stroke="#000" stroke-width="3.2" stroke-linecap="butt"/>
<line x1="233.0" y1="798.3" x2="1178.0" y2="798.3" stroke="#000" stroke-width="3.2" stroke-linecap="butt"/>
<line x1="225.5" y1="735.0" x2="241.5" y2="735.0" stroke="#000" stroke-width="3.2" stroke-linecap="butt"/>
<line x1="225.5" y1="609.6" x2="241.5" y2="609.6" stroke="#000" stroke-width="3.2" stroke-linecap="butt"/>
<line x1="225.5" y1="484.2" x2="241.5" y2="484.2" stroke="#000" stroke-width="3.2" stroke-linecap="butt"/>
<line x1="225.5" y1="358.8" x2="241.5" y2="358.8" stroke="#000" stroke-width="3.2" stroke-linecap="butt"/>
<line x1="225.5" y1="233.4" x2="241.5" y2="233.4" stroke="#000" stroke-width="3.2" stroke-linecap="butt"/>
<line x1="225.5" y1="108.0" x2="241.5" y2="108.0" stroke="#000" stroke-width="3.2" stroke-linecap="butt"/>
<line x1="233.0" y1="672.3" x2="241.5" y2="672.3" stroke="#000" stroke-width="3.0" stroke-linecap="butt"/>
<line x1="233.0" y1="546.9" x2="241.5" y2="546.9" stroke="#000" stroke-width="3.0" stroke-linecap="butt"/>
<line x1="233.0" y1="421.5" x2="241.5" y2="421.5" stroke="#000" stroke-width="3.0" stroke-linecap="butt"/>
<line x1="233.0" y1="296.1" x2="241.5" y2="296.1" stroke="#000" stroke-width="3.0" stroke-linecap="butt"/>
<line x1="233.0" y1="170.7" x2="241.5" y2="170.7" stroke="#000" stroke-width="3.0" stroke-linecap="butt"/>
<line x1="233.0" y1="45.3" x2="241.5" y2="45.3" stroke="#000" stroke-width="3.0" stroke-linecap="butt"/>
<line x1="303.8" y1="798.3" x2="303.8" y2="814.5" stroke="#000" stroke-width="3.2" stroke-linecap="butt"/>
<line x1="462.3" y1="798.3" x2="462.3" y2="814.5" stroke="#000" stroke-width="3.2" stroke-linecap="butt"/>
<line x1="620.8" y1="798.3" x2="620.8" y2="814.5" stroke="#000" stroke-width="3.2" stroke-linecap="butt"/>
<line x1="779.2" y1="798.3" x2="779.2" y2="814.5" stroke="#000" stroke-width="3.2" stroke-linecap="butt"/>
<line x1="937.7" y1="798.3" x2="937.7" y2="814.5" stroke="#000" stroke-width="3.2" stroke-linecap="butt"/>
<line x1="1096.2" y1="798.3" x2="1096.2" y2="814.5" stroke="#000" stroke-width="3.2" stroke-linecap="butt"/>
<line x1="383.0" y1="798.3" x2="383.0" y2="806.5" stroke="#000" stroke-width="3.0" stroke-linecap="butt"/>
<line x1="541.5" y1="798.3" x2="541.5" y2="806.5" stroke="#000" stroke-width="3.0" stroke-linecap="butt"/>
<line x1="700.0" y1="798.3" x2="700.0" y2="806.5" stroke="#000" stroke-width="3.0" stroke-linecap="butt"/>
<line x1="858.5" y1="798.3" x2="858.5" y2="806.5" stroke="#000" stroke-width="3.0" stroke-linecap="butt"/>
<line x1="1017.0" y1="798.3" x2="1017.0" y2="806.5" stroke="#000" stroke-width="3.0" stroke-linecap="butt"/>
<line x1="1175.4" y1="798.3" x2="1175.4" y2="806.5" stroke="#000" stroke-width="3.0" stroke-linecap="butt"/>
<g font-family="'Liberation Sans', Arial, Helvetica, sans-serif">
<text transform="translate(142.37,750.77) scale(1.0134,1)" font-size="52.58" font-weight="bold" fill="#000" >0.0</text>
<text transform="translate(142.37,625.37) scale(1.0114,1)" font-size="52.58" font-weight="bold" fill="#000" >0.2</text>
<text transform="translate(142.42,499.97) scale(0.9870,1)" font-size="52.58" font-weight="bold" fill="#000" >0.4</text>
<text transform="translate(142.38,374.57) scale(1.0095,1)" font-size="52.58" font-weight="bold" fill="#000" >0.6</text>
<text transform="translate(142.38,249.17) scale(1.0057,1)" font-size="52.58" font-weight="bold" fill="#000" >0.8</text>
<text transform="translate(141.11,123.77) scale(1.0311,1)" font-size="52.58" font-weight="bold" fill="#000" >1.0</text>
<text transform="translate(259.80,865.27) scale(1.0029,1)" font-size="53.43" font-weight="bold" fill="#000" >400</text>
<text transform="translate(417.46,865.27) scale(1.0123,1)" font-size="53.43" font-weight="bold" fill="#000" >500</text>
<text transform="translate(575.52,865.27) scale(1.0171,1)" font-size="53.43" font-weight="bold" fill="#000" >600</text>
<text transform="translate(733.72,865.27) scale(1.0203,1)" font-size="53.43" font-weight="bold" fill="#000" >700</text>
<text transform="translate(892.76,865.27) scale(1.0139,1)" font-size="53.43" font-weight="bold" fill="#000" >800</text>
<text transform="translate(1051.10,865.27) scale(1.0155,1)" font-size="53.43" font-weight="bold" fill="#000" >900</text>
<text transform="translate(501.13,921.73) scale(1.0434,1)" font-size="50.67" font-weight="bold" fill="#000" >wavelength (nm)</text>
<text transform="translate(56.37,625.82) rotate(-90) scale(0.9815,1)" font-size="53.62" font-weight="bold" fill="#000" >norm. absorption/</text>
<text transform="translate(121.96,512.64) rotate(-90) scale(0.9814,1)" font-size="54.42" font-weight="bold" fill="#000" >emission</text>
<text transform="translate(22.02,76.87) scale(1.0376,1)" font-size="53.62" font-weight="normal" fill="#000" >(a)</text>
</g>
</g>
<g id="legend" font-family="'Liberation Sans', Arial, Helvetica, sans-serif">
<rect x="47" y="969" width="115" height="30.5" fill="#0a0a0a"/>
<rect x="47" y="1047.5" width="115" height="30" fill="#fd6a21"/>
<rect x="637" y="969.7" width="114" height="29" fill="#97a09e"/>
<rect x="639.6" y="1048.2" width="112.8" height="28" fill="#a5221a" stroke="#80170f" stroke-width="2.2"/>
<line x1="654.5" y1="1048.0" x2="654.5" y2="1076.5" stroke="#86180f" stroke-width="1.4" stroke-linecap="butt"/>
<line x1="640.0" y1="1059.2" x2="752.0" y2="1059.2" stroke="#8e1a12" stroke-width="1.0" stroke-linecap="butt"/>
<text transform="translate(176.63,995.25) scale(0.9146,1)" font-size="49.75" font-weight="bold" fill="#000" stroke="#000" stroke-width="1.3" stroke-linejoin="round">THF</text>
<text transform="translate(187.20,1078.97) scale(0.8893,1)" font-size="49.76" font-weight="bold" fill="#000" stroke="#000" stroke-width="1.3" stroke-linejoin="round">PEG</text>
<text transform="translate(280.26,1091.72) scale(1.1129,1)" font-size="28.33" font-weight="bold" fill="#000" stroke="#000" stroke-width="0.8" stroke-linejoin="round">2kDa</text>
<text transform="translate(359.31,1078.97) scale(0.8919,1)" font-size="49.76" font-weight="bold" fill="#000" stroke="#000" stroke-width="1.3" stroke-linejoin="round">-PLGA</text>
<text transform="translate(497.88,1091.72) scale(1.1273,1)" font-size="28.33" font-weight="bold" fill="#000" stroke="#000" stroke-width="0.8" stroke-linejoin="round">4kDa</text>
<text transform="translate(770.61,999.57) scale(0.8852,1)" font-size="49.76" font-weight="bold" fill="#000" stroke="#000" stroke-width="1.3" stroke-linejoin="round">PEG</text>
<text transform="translate(864.42,1012.32) scale(1.1076,1)" font-size="28.33" font-weight="bold" fill="#000" stroke="#000" stroke-width="0.8" stroke-linejoin="round">5kDa</text>
<text transform="translate(942.31,999.57) scale(0.8939,1)" font-size="49.76" font-weight="bold" fill="#000" stroke="#000" stroke-width="1.3" stroke-linejoin="round">-PLGA</text>
<text transform="translate(1082.40,1012.32) scale(1.1340,1)" font-size="28.33" font-weight="bold" fill="#000" stroke="#000" stroke-width="0.8" stroke-linejoin="round">55kDa</text>
<text transform="translate(769.90,1079.37) scale(0.8873,1)" font-size="49.76" font-weight="bold" fill="#000" stroke="#000" stroke-width="1.3" stroke-linejoin="round">PEG</text>
<text transform="translate(863.26,1092.12) scale(1.1100,1)" font-size="28.33" font-weight="bold" fill="#000" stroke="#000" stroke-width="0.8" stroke-linejoin="round">2kDa</text>
<text transform="translate(940.78,1079.35) scale(0.9069,1)" font-size="49.71" font-weight="bold" fill="#000" stroke="#000" stroke-width="1.3" stroke-linejoin="round">-DPPE</text>
</g>
<g id="right-chart">
<rect x="1572" y="151.8" width="158.9" height="555.6" fill="#0a0a0a"/>
<rect x="1572" y="723.3" width="158.9" height="162.4" fill="#0a0a0a"/>
<rect x="1637" y="146.7" width="29.3" height="8" fill="#0a0a0a"/>
<rect x="1770" y="840" width="155.5" height="45.7" fill="#ff7b1e" stroke="#2a1a0c" stroke-width="3"/>
<rect x="1966.3" y="862.7" width="155.6" height="23.0" fill="#78827f" stroke="#2c3231" stroke-width="3"/>
<rect x="2162.6" y="752" width="155.6" height="133.7" fill="#7d1711" stroke="#3a0906" stroke-width="3.4"/>
<path d="M2170.5,883.7 V759.5 H2310.5 V883.7" fill="none" stroke="#93241a" stroke-width="2.5" opacity="0.55"/>
<path d="M2304,883.7 V763" fill="none" stroke="#93241a" stroke-width="2" opacity="0.4"/>
<line x1="1835.7" y1="832.3" x2="1859.7" y2="832.3" stroke="#0a0a0a" stroke-width="6.8" stroke-linecap="round"/>
<line x1="1835.7" y1="845.0" x2="1859.7" y2="845.0" stroke="#0a0a0a" stroke-width="6.8" stroke-linecap="round"/>
<line x1="1847.7" y1="832.3" x2="1847.7" y2="845.0" stroke="#252522" stroke-width="9.0" stroke-linecap="butt"/>
<line x1="2031.6" y1="856.5" x2="2055.6" y2="856.5" stroke="#0a0a0a" stroke-width="6.8" stroke-linecap="round"/>
<line x1="2031.6" y1="866.0" x2="2055.6" y2="866.0" stroke="#0a0a0a" stroke-width="6.8" stroke-linecap="round"/>
<line x1="2043.6" y1="856.5" x2="2043.6" y2="866.0" stroke="#252522" stroke-width="9.0" stroke-linecap="butt"/>
<line x1="2227.8" y1="745.0" x2="2251.8" y2="745.0" stroke="#0a0a0a" stroke-width="6.8" stroke-linecap="round"/>
<line x1="2227.8" y1="756.2" x2="2251.8" y2="756.2" stroke="#0a0a0a" stroke-width="6.8" stroke-linecap="round"/>
<line x1="2239.8" y1="745.0" x2="2239.8" y2="756.2" stroke="#252522" stroke-width="9.0" stroke-linecap="butt"/>
<line x1="1553.3" y1="32.5" x2="1553.3" y2="711.0" stroke="#000" stroke-width="3.6" stroke-linecap="butt"/>
<line x1="1553.3" y1="722.0" x2="1553.3" y2="887.4" stroke="#000" stroke-width="3.6" stroke-linecap="butt"/>
<line x1="1551.5" y1="885.7" x2="2340.5" y2="885.7" stroke="#000" stroke-width="3.6" stroke-linecap="butt"/>
<line x1="1537.0" y1="225.8" x2="1553.3" y2="225.8" stroke="#000" stroke-width="3.2" stroke-linecap="butt"/>
<line x1="1537.0" y1="514.2" x2="1553.3" y2="514.2" stroke="#000" stroke-width="3.2" stroke-linecap="butt"/>
<line x1="1537.0" y1="708.7" x2="1553.3" y2="708.7" stroke="#000" stroke-width="3.2" stroke-linecap="butt"/>
<line x1="1537.0" y1="795.8" x2="1553.3" y2="795.8" stroke="#000" stroke-width="3.2" stroke-linecap="butt"/>
<line x1="1544.5" y1="81.6" x2="1553.3" y2="81.6" stroke="#000" stroke-width="3.0" stroke-linecap="butt"/>
<line x1="1544.5" y1="370.6" x2="1553.3" y2="370.6" stroke="#000" stroke-width="3.0" stroke-linecap="butt"/>
<line x1="1544.5" y1="612.3" x2="1553.3" y2="612.3" stroke="#000" stroke-width="3.0" stroke-linecap="butt"/>
<line x1="1544.5" y1="750.0" x2="1553.3" y2="750.0" stroke="#000" stroke-width="3.0" stroke-linecap="butt"/>
<line x1="1537.5" y1="715.0" x2="1570.7" y2="700.3" stroke="#000" stroke-width="3.0" stroke-linecap="butt"/>
<line x1="1537.5" y1="731.0" x2="1570.7" y2="715.6" stroke="#000" stroke-width="3.0" stroke-linecap="butt"/>
<line x1="1650.9" y1="885.7" x2="1650.9" y2="907.0" stroke="#000" stroke-width="3.2" stroke-linecap="butt"/>
<line x1="1847.2" y1="885.7" x2="1847.2" y2="907.0" stroke="#000" stroke-width="3.2" stroke-linecap="butt"/>
<line x1="2043.6" y1="885.7" x2="2043.6" y2="907.0" stroke="#000" stroke-width="3.2" stroke-linecap="butt"/>
<line x1="2239.8" y1="885.7" x2="2239.8" y2="907.0" stroke="#000" stroke-width="3.2" stroke-linecap="butt"/>
<line x1="1553.3" y1="885.7" x2="1553.3" y2="897.0" stroke="#000" stroke-width="3.0" stroke-linecap="butt"/>
<line x1="1749.0" y1="885.7" x2="1749.0" y2="897.0" stroke="#000" stroke-width="3.0" stroke-linecap="butt"/>
<line x1="1945.4" y1="885.7" x2="1945.4" y2="897.0" stroke="#000" stroke-width="3.0" stroke-linecap="butt"/>
<line x1="2141.5" y1="885.7" x2="2141.5" y2="897.0" stroke="#000" stroke-width="3.0" stroke-linecap="butt"/>
<line x1="2338.7" y1="885.7" x2="2338.7" y2="897.0" stroke="#000" stroke-width="3.0" stroke-linecap="butt"/>
<path d="M1844.8,578.6 L1844.8,558.6 L2239.5,558.6 L2239.5,578.6" fill="none" stroke="#66757a" stroke-width="2.4"/>
<path d="M1848,660.3 L1848,642 L2035,642 L2035,660.3" fill="none" stroke="#66757a" stroke-width="2.4"/>
<path d="M2052.8,660.3 L2052.8,642 L2239.5,642 L2239.5,660.3" fill="none" stroke="#66757a" stroke-width="2.4"/>
<g font-family="'Liberation Sans', Arial, Helvetica, sans-serif">
<text transform="translate(1454.94,240.71) scale(1.0407,1)" font-size="49.47" font-weight="bold" fill="#000" >0.6</text>
<text transform="translate(1454.94,530.38) scale(1.0326,1)" font-size="49.86" font-weight="bold" fill="#000" >0.3</text>
<text transform="translate(1455.14,722.50) scale(0.9332,1)" font-size="49.75" font-weight="bold" fill="#000" >0.1</text>
<text transform="translate(1425.74,811.00) scale(1.0374,1)" font-size="49.75" font-weight="bold" fill="#000" >0.05</text>
<text transform="translate(1581.44,111.71) scale(1.0079,1)" font-size="48.62" font-weight="bold" fill="#000" >0.677</text>
<text transform="translate(1792.04,811.71) scale(0.9913,1)" font-size="49.33" font-weight="bold" fill="#000" >0.026</text>
<text transform="translate(1984.26,829.51) scale(0.9797,1)" font-size="49.47" font-weight="bold" fill="#000" >0.014</text>
<text transform="translate(2181.03,709.51) scale(0.9962,1)" font-size="49.47" font-weight="bold" fill="#000" >0.075</text>
<text transform="translate(1439.93,561.91) rotate(-90) scale(0.9570,1)" font-size="60.59" font-weight="bold" fill="#000" >PLQY (%)</text>
<text transform="translate(1384.51,83.63) scale(1.0772,1)" font-size="51.90" font-weight="normal" fill="#000" >(b)</text>
<text transform="translate(2010.10,542.03) scale(0.9373,1)" font-size="42.95" font-weight="bold" fill="#000" >*</text>
<text transform="translate(2032.70,542.03) scale(0.9373,1)" font-size="42.95" font-weight="bold" fill="#000" >*</text>
<text transform="translate(2055.30,542.03) scale(0.9373,1)" font-size="42.95" font-weight="bold" fill="#000" >*</text>
<text transform="translate(1920.30,628.53) scale(0.9373,1)" font-size="42.95" font-weight="bold" fill="#000" >*</text>
<text transform="translate(1943.40,628.53) scale(0.9373,1)" font-size="42.95" font-weight="bold" fill="#000" >*</text>
<text transform="translate(2112.40,629.53) scale(0.9373,1)" font-size="42.95" font-weight="bold" fill="#000" >*</text>
<text transform="translate(2134.90,629.53) scale(0.9373,1)" font-size="42.95" font-weight="bold" fill="#000" >*</text>
<text transform="translate(2157.40,629.53) scale(0.9373,1)" font-size="42.95" font-weight="bold" fill="#000" >*</text>
<clipPath id="clipb"><rect x="1380" y="890" width="972" height="199.5"/></clipPath>
<g clip-path="url(#clipb)">
<text transform="matrix(0.9078,-0.4195,0.3720,0.9444,1570.50,996.60)" font-size="48.6" font-weight="bold" fill="#000">THF</text>
<text transform="matrix(0.9078,-0.4195,0.3720,0.9444,1581.00,1095.50)" font-size="48.6" font-weight="bold" fill="#000">PEG</text>
<text transform="matrix(0.9078,-0.4195,0.3720,0.9444,1679.15,1064.00)" font-size="29.5" font-weight="bold" fill="#000">2kDa</text>
<text transform="matrix(0.9078,-0.4195,0.3720,0.9444,1737.99,1018.01)" font-size="48.6" font-weight="bold" fill="#000">-PLGA</text>
<text transform="matrix(0.9078,-0.4195,0.3720,0.9444,1880.43,968.03)" font-size="29.5" font-weight="bold" fill="#000">4kDa</text>
<text transform="matrix(0.9078,-0.4195,0.3720,0.9444,1771.80,1095.30)" font-size="48.6" font-weight="bold" fill="#000">PEG</text>
<text transform="matrix(0.9078,-0.4195,0.3720,0.9444,1871.62,1063.69)" font-size="29.5" font-weight="bold" fill="#000">5kDa</text>
<text transform="matrix(0.9078,-0.4195,0.3720,0.9444,1928.94,1017.63)" font-size="48.6" font-weight="bold" fill="#000">-PLGA</text>
<text transform="matrix(0.9078,-0.4195,0.3720,0.9444,2071.26,967.93)" font-size="29.5" font-weight="bold" fill="#000">55kDa</text>
<text transform="matrix(0.9078,-0.4195,0.3720,0.9444,2002.00,1082.50)" font-size="48.6" font-weight="bold" fill="#000">PEG</text>
<text transform="matrix(0.9078,-0.4195,0.3720,0.9444,2100.40,1055.73)" font-size="29.5" font-weight="bold" fill="#000">2kDa</text>
<text transform="matrix(0.9078,-0.4195,0.3720,0.9444,2158.78,1010.72)" font-size="48.6" font-weight="bold" fill="#000">-DPPE</text>
</g>
</g>
</g>
</g>
</svg>
</body>
</html>
